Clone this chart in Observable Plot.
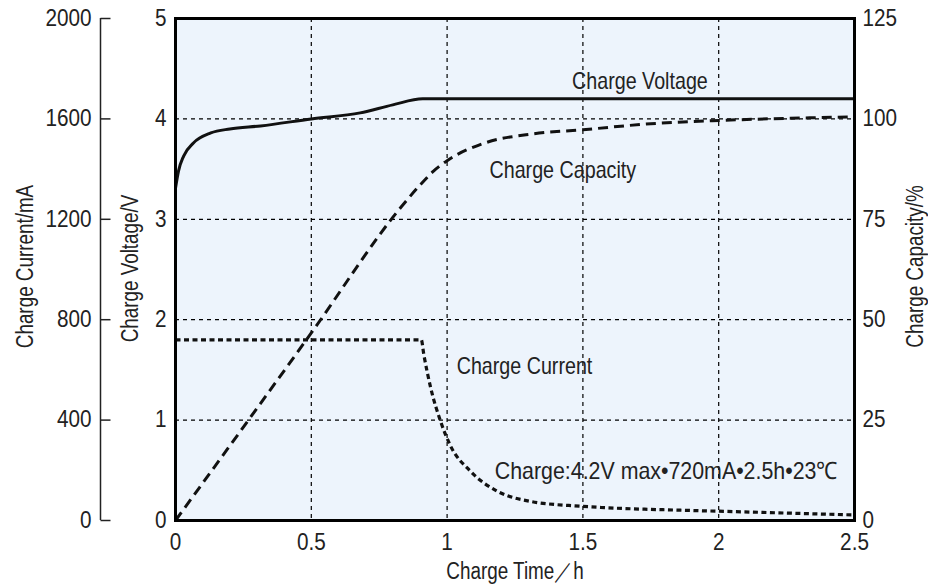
<!DOCTYPE html>
<html><head><meta charset="utf-8">
<script src="https://cdn.jsdelivr.net/npm/d3@7"></script>
<script src="https://cdn.jsdelivr.net/npm/@observablehq/plot@0.6"></script>
<style>body{margin:0;background:#fff;}</style>
</head><body><div id="chart"></div>
<script>
// Charge voltage (V) vs time (h)
const voltTime = [0, 0.011, 0.03, 0.066, 0.13, 0.2, 0.313, 0.5, 0.68, 0.8, 0.91, 1.5, 2.0, 2.5];
const voltage  = [3.31, 3.48, 3.63, 3.76, 3.86, 3.9, 3.93, 4.0, 4.06, 4.14, 4.2, 4.2, 4.2, 4.2];
// Charge capacity (%) vs time (h)
const capTime  = [0, 0.5, 0.83, 0.9, 0.95, 1.0, 1.13, 1.32, 1.5, 1.75, 2.0, 2.5];
const capacity = [0, 46.7, 78, 83.5, 87, 89.6, 93.8, 96.3, 97.3, 98.8, 99.6, 100.5];
// Charge current (mA) vs time (h)
const curTime  = [0, 0.905, 0.914, 0.94, 0.976, 1.01, 1.086, 1.186, 1.307, 1.49, 1.565, 1.86, 2.0, 2.5];
const current  = [720, 720, 663, 527, 395, 303, 196, 116, 76, 57, 52, 41, 37, 22];

// axis ticks
const timeTicks = [0, 0.5, 1, 1.5, 2, 2.5];
const voltTicks = [0, 1, 2, 3, 4, 5];
const capTicks  = [0, 25, 50, 75, 100, 125];
const curTicks  = [0, 400, 800, 1200, 1600, 2000];

const conditionText = "Charge:4.2V max•720mA•2.5h•23℃";

const FONT = '"Liberation Sans Narrow","Arial Narrow","Liberation Sans",Arial,sans-serif';
const INK = "#222";

const vData = voltTime.map((t, i) => ({t, v: voltage[i]}));
const capData = capTime.map((t, i) => ({t, v: capacity[i] / 25}));
const curData = curTime.map((t, i) => ({t, v: current[i] / 400}));

const tickSymbol = {draw(ctx) { ctx.moveTo(0, 0); ctx.lineTo(10, 0); }};
const gridStyle = {stroke: "#000", strokeOpacity: 1, strokeWidth: 1.2, strokeDasharray: "4,4"};

const chart = Plot.plot({
  width: 928, height: 587,
  marginLeft: 175, marginRight: 74, marginTop: 18, marginBottom: 67,
  style: {fontFamily: FONT, fontSize: "23px", color: INK, background: "white", overflow: "visible"},
  x: {domain: [0, 2.5]},
  y: {domain: [0, 5]},
  marks: [
    Plot.frame({fill: "#edf4fc", stroke: "none"}),
    Plot.gridX(timeTicks.filter(d => d > 0 && d < 2.5), gridStyle),
    Plot.gridY(voltTicks.filter(d => d > 0 && d < 5), gridStyle),
    Plot.line(curData, {x: "t", y: "v", stroke: "#111", strokeWidth: 3.2, strokeDasharray: "5,3.5", strokeLinecap: "butt", curve: "monotone-x"}),
    Plot.line(capData, {x: "t", y: "v", stroke: "#111", strokeWidth: 3, strokeDasharray: "10,6", strokeLinecap: "butt", curve: "monotone-x"}),
    Plot.line(vData, {x: "t", y: "v", stroke: "#111", strokeWidth: 3, curve: "monotone-x"}),
    Plot.frame({stroke: "#000", strokeWidth: 3}),
    Plot.axisX(timeTicks, {tickSize: 0, tickPadding: 13, label: null, fontSize: 23, tickFormat: d => String(d)}),
    Plot.axisY(voltTicks, {anchor: "left", tickSize: 0, tickPadding: 9, label: null, fontSize: 23, tickFormat: d => String(d)}),
    Plot.axisY(capTicks.map(c => c / 25), {anchor: "right", tickSize: 0, tickPadding: 8, label: null, fontSize: 23, tickFormat: d => String(Math.round(d * 25))}),
    // separate current axis
    Plot.ruleX([0], {y1: 0, y2: 5, dx: -75, stroke: INK, strokeWidth: 1.5}),
    Plot.dot(curTicks, {x: 0, y: d => d / 400, dx: -75, symbol: tickSymbol, fill: "none", stroke: INK, strokeWidth: 1.5}),
    Plot.text(curTicks, {x: 0, y: d => d / 400, text: d => String(d), textAnchor: "end", dx: -84, fontSize: 23, fill: INK}),
    // axis titles
    Plot.text(["Charge Current/mA"], {frameAnchor: "left", textAnchor: "middle", rotate: -90, dx: -150, dy: -3, fontSize: 23, fill: INK}),
    Plot.text(["Charge Voltage/V"], {frameAnchor: "left", textAnchor: "middle", rotate: -90, dx: -45, dy: -1, fontSize: 23, fill: INK}),
    Plot.text(["Charge Capacity/%"], {frameAnchor: "right", textAnchor: "middle", rotate: -90, dx: 61, dy: -3, fontSize: 23, fill: INK}),
    Plot.text(["Charge Time／h"], {frameAnchor: "bottom", dy: 58, fontSize: 23, fill: INK}),
    // curve labels
    Plot.text(["Charge Voltage"], {x: 1.71, y: 4.377, fontSize: 24, fill: INK}),
    Plot.text(["Charge Capacity"], {x: 1.426, y: 3.49, fontSize: 24, fill: INK}),
    Plot.text(["Charge Current"], {x: 1.285, y: 1.54, fontSize: 24, fill: INK}),
    Plot.text([conditionText], {x: 1.807, y: 0.493, fontSize: 24, fill: INK})
  ]
});
document.getElementById("chart").appendChild(chart);

// Condense the text horizontally (the original uses a narrow typeface)
d3.select(chart).selectAll("text").each(function () {
  const s = this.textContent;
  const factor = /^[0-9.]+$/.test(s) ? 0.9 : s === conditionText ? 0.89 : 0.82;
  const tf = this.getAttribute("transform") || "";
  if (/rotate/.test(tf)) {
    this.setAttribute("transform", tf + ` scale(${factor},1)`);
    return;
  }
  const len = this.getComputedTextLength();
  if (len > 0) {
    this.setAttribute("textLength", (len * factor).toFixed(1));
    this.setAttribute("lengthAdjust", "spacingAndGlyphs");
  }
});
</script>
</body></html>
